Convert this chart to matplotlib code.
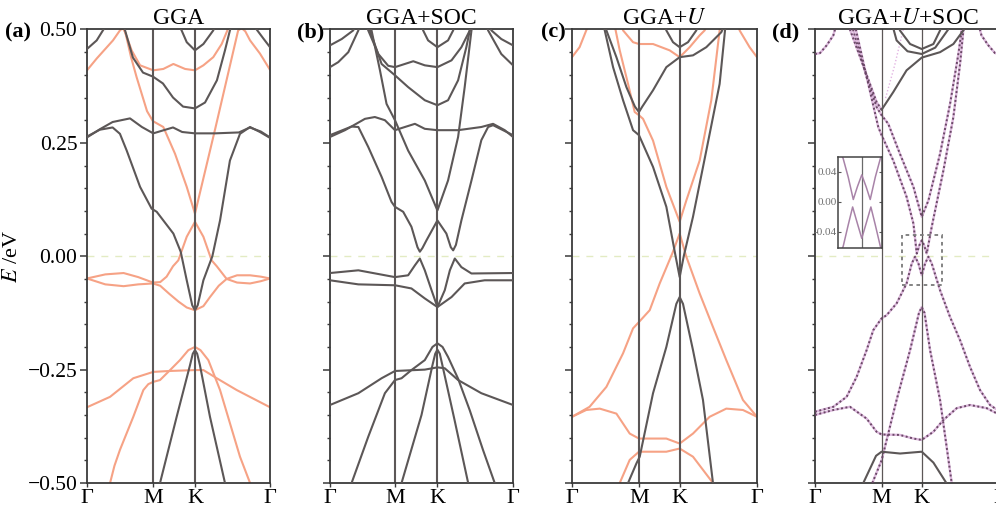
import matplotlib

matplotlib.use("Agg")
import matplotlib.pyplot as plt
from matplotlib.ticker import FixedLocator, FuncFormatter, NullFormatter
from matplotlib.patches import Rectangle

plt.rcParams["font.family"] = ["Liberation Serif", "DejaVu Serif"]
plt.rcParams["mathtext.fontset"] = "stix"

DARK = "#5c5757"
SALMON = "#f6a285"
DOT_BASE = "#dcb8dc"
DOT_FG = "#6a4866"
FERMI = "#e3ebc3"
SPINE = "#3a3a3a"

TITLES = ["GGA", "GGA+SOC", "GGA+$U$", "GGA+$U$+SOC"]
TAGS = ["(a)", "(b)", "(c)", "(d)"]
KPATH_LABELS = ["Γ", "M", "K", "Γ"]
KPATH_POS = [
    [0, 0.362, 0.59, 1],
    [0, 0.355, 0.587, 1],
    [0, 0.362, 0.582, 1],
    [0, 0.36, 0.577, 1],
]
E_MAJOR = [-0.5, -0.25, 0.0, 0.25, 0.5]
E_MINOR = [-0.45, -0.4, -0.35, -0.3, -0.2, -0.15, -0.1, -0.05,
           0.05, 0.1, 0.15, 0.2, 0.3, 0.35, 0.4, 0.45]

# ---- (a) GGA ----
GGA_DARK = [
    [(0, 0.457), (0.053, 0.476), (0.09, 0.5), (0.1, 0.51)],
    [(0.91, 0.51), (0.927, 0.5), (0.964, 0.48), (1.0, 0.461)],
    [(0.2, 0.51), (0.208, 0.498), (0.251, 0.438), (0.306, 0.405), (0.361, 0.396),
     (0.415, 0.381), (0.47, 0.35), (0.525, 0.33), (0.59, 0.326), (0.645, 0.339),
     (0.71, 0.388), (0.754, 0.454), (0.781, 0.498), (0.79, 0.51)],
    [(0.5, 0.51), (0.517, 0.498), (0.545, 0.472), (0.59, 0.454), (0.636, 0.468),
     (0.69, 0.498), (0.7, 0.51)],
    [(0, 0.262), (0.07, 0.28), (0.14, 0.296), (0.235, 0.304), (0.3, 0.285),
     (0.362, 0.271), (0.42, 0.278), (0.47, 0.284), (0.52, 0.274), (0.59, 0.271),
     (0.7, 0.271), (0.83, 0.273), (0.89, 0.284), (0.95, 0.275), (1.0, 0.262)],
    [(0, 0.264), (0.07, 0.279), (0.14, 0.284), (0.18, 0.27), (0.217, 0.233),
     (0.29, 0.153), (0.353, 0.105), (0.381, 0.098), (0.472, 0.05), (0.512, 0.01),
     (0.545, -0.053), (0.575, -0.108), (0.59, -0.119), (0.605, -0.108),
     (0.636, -0.053), (0.685, 0.0), (0.727, 0.079), (0.781, 0.211), (0.836, 0.27),
     (0.891, 0.285), (0.945, 0.274), (1.0, 0.261)],
    [(0.399, -0.5), (0.49, -0.354), (0.563, -0.24), (0.578, -0.215), (0.59, -0.207),
     (0.602, -0.215), (0.617, -0.24), (0.672, -0.354), (0.754, -0.5)],
]
GGA_SALMON = [
    [(0, 0.41), (0.053, 0.436), (0.142, 0.476), (0.18, 0.498), (0.195, 0.503),
     (0.21, 0.493), (0.24, 0.44), (0.271, 0.395), (0.328, 0.32), (0.36, 0.298),
     (0.417, 0.285), (0.481, 0.226), (0.545, 0.153), (0.59, 0.094), (0.7, 0.28),
     (0.826, 0.498), (0.845, 0.503), (0.865, 0.496), (0.891, 0.476),
     (0.945, 0.447), (1.0, 0.411)],
    [(0.2, 0.51), (0.208, 0.494), (0.244, 0.454), (0.29, 0.421), (0.362, 0.41),
     (0.417, 0.413), (0.472, 0.424), (0.536, 0.413), (0.59, 0.41), (0.636, 0.421),
     (0.69, 0.439), (0.736, 0.468), (0.767, 0.498), (0.775, 0.51)],
    [(0, -0.049), (0.1, -0.04), (0.2, -0.037), (0.28, -0.046), (0.36, -0.058),
     (0.4, -0.057), (0.435, -0.045), (0.47, -0.022), (0.499, -0.009), (0.545, 0.043),
     (0.59, 0.076), (0.636, 0.043), (0.681, -0.009), (0.709, -0.022), (0.763, -0.05),
     (0.82, -0.058), (0.891, -0.06), (0.95, -0.055), (1.0, -0.049)],
    [(0, -0.049), (0.1, -0.062), (0.2, -0.066), (0.28, -0.062), (0.36, -0.06),
     (0.4, -0.065), (0.45, -0.083), (0.5, -0.1), (0.545, -0.113), (0.59, -0.119),
     (0.636, -0.11), (0.672, -0.09), (0.72, -0.065), (0.763, -0.05), (0.82, -0.042),
     (0.891, -0.042), (0.95, -0.045), (1.0, -0.049)],
    [(0.126, -0.5), (0.15, -0.462), (0.18, -0.427), (0.253, -0.354), (0.308, -0.295),
     (0.335, -0.282), (0.362, -0.277), (0.399, -0.273), (0.454, -0.251),
     (0.508, -0.229), (0.554, -0.207), (0.59, -0.2), (0.62, -0.207), (0.663, -0.229),
     (0.727, -0.295), (0.781, -0.368), (0.836, -0.442), (0.891, -0.5)],
    [(0, -0.333), (0.126, -0.31), (0.253, -0.269), (0.362, -0.255), (0.45, -0.253),
     (0.59, -0.251), (0.636, -0.251), (0.709, -0.269), (0.818, -0.295), (1.0, -0.333)],
]

# ---- (b) GGA+SOC ----
SOC_DARK = [
    [(0, 0.465), (0.064, 0.479), (0.127, 0.498), (0.14, 0.51)],
    [(0, 0.417), (0.045, 0.428), (0.1, 0.45), (0.155, 0.498), (0.16, 0.51)],
    [(0.87, 0.51), (0.882, 0.498), (0.936, 0.479), (1.0, 0.465)],
    [(0.855, 0.51), (0.864, 0.498), (0.936, 0.446), (1.0, 0.421)],
    [(0.2, 0.51), (0.209, 0.498), (0.264, 0.446), (0.318, 0.42), (0.355, 0.417),
     (0.455, 0.43), (0.518, 0.421), (0.587, 0.417), (0.664, 0.432), (0.718, 0.461),
     (0.764, 0.498), (0.77, 0.51)],
    [(0.21, 0.51), (0.218, 0.498), (0.282, 0.424), (0.355, 0.399), (0.427, 0.373),
     (0.518, 0.344), (0.587, 0.333), (0.645, 0.344), (0.7, 0.388), (0.745, 0.461),
     (0.764, 0.498), (0.77, 0.51)],
    [(0.22, 0.51), (0.227, 0.498), (0.273, 0.41), (0.309, 0.336), (0.355, 0.3),
     (0.427, 0.233), (0.518, 0.167), (0.587, 0.101), (0.645, 0.167), (0.7, 0.263),
     (0.736, 0.373), (0.773, 0.498), (0.78, 0.51)],
    [(0.5, 0.51), (0.509, 0.498), (0.536, 0.476), (0.587, 0.461), (0.645, 0.476),
     (0.673, 0.498), (0.68, 0.51)],
    [(0, 0.267), (0.118, 0.286), (0.155, 0.285), (0.209, 0.241), (0.282, 0.175),
     (0.336, 0.12), (0.355, 0.109), (0.4, 0.098), (0.445, 0.065), (0.478, 0.02),
     (0.491, 0.01), (0.505, 0.018), (0.527, 0.035), (0.587, 0.079), (0.636, 0.05),
     (0.66, 0.02), (0.673, 0.013), (0.688, 0.025), (0.718, 0.079), (0.773, 0.167),
     (0.827, 0.256), (0.864, 0.285), (0.891, 0.289), (1.0, 0.267)],
    [(0, 0.263), (0.082, 0.278), (0.191, 0.303), (0.245, 0.307), (0.3, 0.3),
     (0.355, 0.278), (0.409, 0.285), (0.464, 0.292), (0.518, 0.281), (0.587, 0.278),
     (0.7, 0.278), (0.827, 0.285), (0.891, 0.292), (0.955, 0.278), (1.0, 0.263)],
    [(0, -0.037), (0.155, -0.031), (0.355, -0.046), (0.427, -0.042), (0.464, -0.02),
     (0.491, -0.005), (0.518, -0.031), (0.555, -0.075), (0.587, -0.112),
     (0.627, -0.075), (0.655, -0.031), (0.682, -0.005), (0.718, -0.024),
     (0.773, -0.038), (1.0, -0.037)],
    [(0, -0.053), (0.155, -0.062), (0.355, -0.064), (0.445, -0.071), (0.518, -0.093),
     (0.587, -0.112), (0.664, -0.09), (0.736, -0.06), (0.845, -0.053), (1.0, -0.053)],
    [(0.118, -0.5), (0.209, -0.398), (0.3, -0.302), (0.355, -0.273), (0.391, -0.269),
     (0.445, -0.251), (0.518, -0.229), (0.56, -0.2), (0.587, -0.192), (0.615, -0.2),
     (0.645, -0.222), (0.7, -0.27), (0.764, -0.34), (0.836, -0.427), (0.9, -0.5)],
    [(0.391, -0.5), (0.5, -0.35), (0.56, -0.24), (0.575, -0.215), (0.587, -0.206),
     (0.6, -0.215), (0.614, -0.24), (0.68, -0.36), (0.755, -0.5)],
    [(0, -0.328), (0.155, -0.302), (0.282, -0.269), (0.355, -0.253), (0.518, -0.25),
     (0.587, -0.245), (0.627, -0.247), (0.7, -0.273), (0.827, -0.302), (1.0, -0.328)],
]

# ---- (c) GGA+U ----
U_DARK = [
    [(0.5, 0.51), (0.51, 0.498), (0.546, 0.472), (0.582, 0.461), (0.627, 0.472),
     (0.672, 0.498), (0.68, 0.51)],
    [(0.18, 0.51), (0.186, 0.498), (0.24, 0.439), (0.294, 0.373), (0.34, 0.33),
     (0.362, 0.318), (0.38, 0.33), (0.438, 0.366), (0.51, 0.417), (0.582, 0.439),
     (0.654, 0.443), (0.726, 0.461), (0.807, 0.494), (0.825, 0.51)],
    [(0.17, 0.51), (0.177, 0.498), (0.222, 0.417), (0.276, 0.344), (0.33, 0.278),
     (0.362, 0.267), (0.438, 0.197), (0.51, 0.109), (0.56, 0.0), (0.582, -0.046),
     (0.604, 0.0), (0.654, 0.087), (0.726, 0.233), (0.798, 0.38), (0.83, 0.51)],
    [(0.303, -0.5), (0.348, -0.457), (0.366, -0.442), (0.438, -0.302), (0.51, -0.2),
     (0.564, -0.105), (0.582, -0.09), (0.6, -0.105), (0.654, -0.207),
     (0.708, -0.317), (0.762, -0.5)],
]
U_SALMON = [
    [(0, 0.439), (0.041, 0.461), (0.077, 0.498), (0.09, 0.51)],
    [(0.9, 0.51), (0.906, 0.498), (0.96, 0.461), (1.0, 0.439)],
    [(0.27, 0.51), (0.276, 0.498), (0.33, 0.472), (0.362, 0.468), (0.438, 0.468),
     (0.528, 0.454), (0.582, 0.439), (0.636, 0.461), (0.69, 0.487), (0.717, 0.498),
     (0.73, 0.51)],
    [(0.23, 0.51), (0.236, 0.498), (0.258, 0.454), (0.303, 0.38), (0.339, 0.318),
     (0.362, 0.311), (0.384, 0.303), (0.438, 0.255), (0.51, 0.153), (0.582, 0.076),
     (0.618, 0.123), (0.69, 0.211), (0.753, 0.344), (0.798, 0.498), (0.8, 0.51)],
    [(0, -0.354), (0.095, -0.332), (0.186, -0.288), (0.276, -0.214), (0.33, -0.159),
     (0.362, -0.145), (0.42, -0.119), (0.474, -0.06), (0.542, 0.006), (0.582, 0.05),
     (0.618, -0.001), (0.69, -0.082), (0.762, -0.156), (0.834, -0.229),
     (0.924, -0.317), (1.0, -0.354)],
    [(0, -0.354), (0.077, -0.339), (0.15, -0.336), (0.24, -0.347), (0.312, -0.391),
     (0.362, -0.402), (0.51, -0.402), (0.582, -0.413), (0.654, -0.391),
     (0.744, -0.354), (0.834, -0.336), (0.924, -0.339), (1.0, -0.354)],
    [(0.258, -0.5), (0.312, -0.449), (0.362, -0.431), (0.51, -0.431), (0.582, -0.424),
     (0.654, -0.442), (0.708, -0.471), (0.762, -0.5)],
]

# ---- (d) GGA+U+SOC ----
USOC_SOLID = [
    [(0.36, 0.323), (0.423, 0.362), (0.495, 0.41), (0.577, 0.438), (0.676, 0.45),
     (0.748, 0.468), (0.802, 0.498), (0.81, 0.51)],
    [(0.45, 0.51), (0.459, 0.498), (0.514, 0.468), (0.577, 0.457), (0.64, 0.468),
     (0.676, 0.498), (0.685, 0.51)],
    [(0.425, 0.5), (0.441, 0.476), (0.5, 0.452), (0.577, 0.446), (0.65, 0.46),
     (0.72, 0.5)],
    [(0.261, -0.5), (0.33, -0.44), (0.36, -0.431), (0.46, -0.435), (0.577, -0.431),
     (0.64, -0.455), (0.71, -0.5)],
]
USOC_DOTTED = [
    [(0, 0.446), (0.027, 0.448), (0.063, 0.465), (0.099, 0.487), (0.115, 0.51)],
    [(0.885, 0.51), (0.9, 0.487), (0.937, 0.465), (0.973, 0.448), (1.0, 0.446)],
    [(0.18, 0.51), (0.189, 0.5), (0.27, 0.41), (0.333, 0.34), (0.36, 0.323)],
    [(0.2, 0.51), (0.207, 0.498), (0.279, 0.395), (0.333, 0.329), (0.36, 0.311),
     (0.396, 0.292), (0.459, 0.226), (0.532, 0.153), (0.577, 0.087), (0.613, 0.123),
     (0.676, 0.226), (0.73, 0.336), (0.775, 0.446), (0.793, 0.498), (0.8, 0.51)],
    [(0.215, 0.51), (0.222, 0.498), (0.288, 0.38), (0.342, 0.285), (0.36, 0.267),
     (0.423, 0.211), (0.495, 0.131), (0.532, 0.072), (0.55, 0.006), (0.565, 0.025),
     (0.577, 0.035), (0.589, 0.025), (0.604, 0.006), (0.631, 0.065), (0.694, 0.189),
     (0.748, 0.307), (0.784, 0.424), (0.802, 0.498), (0.81, 0.51)],
    [(0, -0.343), (0.099, -0.332), (0.171, -0.31), (0.225, -0.266), (0.279, -0.207),
     (0.315, -0.163), (0.36, -0.137), (0.387, -0.13), (0.441, -0.104),
     (0.495, -0.06), (0.523, -0.016), (0.541, -0.001), (0.559, -0.016),
     (0.577, -0.042), (0.595, -0.016), (0.613, -0.001), (0.631, -0.016),
     (0.676, -0.075), (0.73, -0.134), (0.784, -0.185), (0.838, -0.244),
     (0.892, -0.295), (0.946, -0.328), (1.0, -0.343)],
    [(0, -0.35), (0.099, -0.339), (0.189, -0.332), (0.279, -0.358), (0.333, -0.387),
     (0.36, -0.393), (0.459, -0.394), (0.532, -0.402), (0.577, -0.405),
     (0.64, -0.387), (0.694, -0.361), (0.766, -0.335), (0.838, -0.328),
     (0.928, -0.335), (1.0, -0.35)],
    [(0.31, -0.5), (0.345, -0.465), (0.36, -0.45), (0.441, -0.317), (0.514, -0.207),
     (0.562, -0.125), (0.577, -0.112), (0.592, -0.125), (0.622, -0.207),
     (0.676, -0.317), (0.739, -0.5)],
]
USOC_PINK = [
    [(0.477, 0.5), (0.43, 0.42), (0.378, 0.344)],
]
ZOOM_BOX = (0.469, -0.064, 0.216, 0.11)  # k0, E0, dk, dE

INSET_UPPER = [(-1.1, 0.075), (-0.846, 0.058), (-0.615, 0.033), (-0.385, 0.003),
               (-0.2, 0.02), (0, 0.036), (0.2, 0.02), (0.385, 0.003),
               (0.615, 0.033), (0.846, 0.058), (1.0, 0.07)]
INSET_LOWER = [(-1.1, -0.075), (-0.846, -0.06), (-0.615, -0.031), (-0.415, -0.007),
               (-0.2, -0.029), (0, -0.049), (0.2, -0.029), (0.415, -0.007),
               (0.615, -0.031), (0.846, -0.06), (1.0, -0.07)]
INSET_TICKS = [0.04, 0.0, -0.04]
INSET_TICKLABELS = ["0.04", "0.00", "-0.04"]

PANEL_BANDS = [
    [(GGA_DARK, "solid_dark"), (GGA_SALMON, "salmon")],
    [(SOC_DARK, "solid_dark")],
    [(U_SALMON, "salmon"), (U_DARK, "solid_dark")],
    [(USOC_PINK, "pink"), (USOC_DOTTED, "dotted"), (USOC_SOLID, "solid_dark")],
]

W, H = 996, 515
PANEL_LEFT = [87, 330, 572, 815]
PANEL_WIDTH = [183, 183, 185, 185]
TAG_X = [5, 297, 541, 772]
TOP, BOTTOM = 29.5, 483


def draw(ax, bands, style):
    for band in bands:
        ks = [p[0] for p in band]
        es = [p[1] for p in band]
        if style == "solid_dark":
            ax.plot(ks, es, color=DARK, lw=1.5, solid_capstyle="round", zorder=3)
        elif style == "salmon":
            ax.plot(ks, es, color=SALMON, lw=1.5, solid_capstyle="round", zorder=2)
        elif style == "dotted":
            ax.plot(ks, es, color=DOT_BASE, lw=1.7, zorder=2)
            ax.plot(ks, es, color=DOT_FG, lw=1.4, ls=(0, (1, 1.3)), zorder=3)
        elif style == "pink":
            ax.plot(ks, es, color="#e2b4e2", lw=1.0, ls=(0, (1, 1.5)), zorder=1)


def energy_label(v, pos):
    return f"{v:.2f}".replace("-", "−")


fig = plt.figure(figsize=(W / 100, H / 100), dpi=100)

for i in range(4):
    ax = fig.add_axes([PANEL_LEFT[i] / W, 1 - BOTTOM / H,
                       PANEL_WIDTH[i] / W, (BOTTOM - TOP) / H])
    ax.set_xlim(0, 1)
    ax.set_ylim(-0.5, 0.5)
    vlw = 0.9 if i == 3 else 1.5
    for kx in KPATH_POS[i][1:3]:
        ax.axvline(kx, color=DARK, lw=vlw, zorder=2.5)
    ax.axhline(0, color=FERMI, lw=1.0, ls=(0, (5, 5)), zorder=1)
    for bands, style in PANEL_BANDS[i]:
        draw(ax, bands, style)

    ax.yaxis.set_major_locator(FixedLocator(E_MAJOR))
    ax.yaxis.set_minor_locator(FixedLocator(E_MINOR))
    ax.xaxis.set_major_locator(FixedLocator(KPATH_POS[i]))
    ax.set_xticklabels(KPATH_LABELS, fontsize=16)
    ax.tick_params(axis="y", which="major", direction="out", length=5, width=1.1,
                   color=SPINE, labelsize=15.5, pad=2)
    ax.tick_params(axis="y", which="minor", direction="out", length=2.5, width=1.0,
                   color=SPINE)
    ax.tick_params(axis="x", direction="out", length=3, width=1.0, color=SPINE,
                   pad=1)
    if i == 0:
        ax.yaxis.set_major_formatter(FuncFormatter(energy_label))
        ax.set_ylabel("$E$ /eV", fontsize=16, labelpad=4)
    else:
        ax.yaxis.set_major_formatter(NullFormatter())
    for s in ax.spines.values():
        s.set_color(SPINE)
        s.set_linewidth(1.3)
    ax.set_title(TITLES[i], fontsize=17, pad=4)
    fig.text(TAG_X[i] / W, 1 - 32 / H, TAGS[i], fontsize=16, fontweight="bold",
             ha="left", va="center")

    if i == 3:
        k0, e0, dk, de = ZOOM_BOX
        ax.add_patch(Rectangle((k0, e0), dk, de, fill=False, ec="#7a7a7a", lw=1.3,
                               ls=(0, (2, 2)), zorder=4))

# inset of panel (d)
ins = fig.add_axes([838 / W, 1 - 248 / H, 44 / W, 91 / H])
ins.set_xlim(-1.08, 0.92)
ins.set_ylim(-0.062, 0.06)
ins.axvline(0, color="#6a6a6a", lw=0.9)
for band in (INSET_UPPER, INSET_LOWER):
    ins.plot([p[0] for p in band], [p[1] for p in band], color="#a883a8", lw=1.1)
ins.set_xticks([])
ins.set_yticks(INSET_TICKS)
ins.set_yticklabels(INSET_TICKLABELS, fontsize=8, color="#707070")
ins.tick_params(axis="y", direction="in", length=2.5, width=0.8, pad=1,
                right=True, color="#555555")
for s in ins.spines.values():
    s.set_color("#444444")
    s.set_linewidth(1.1)

fig.savefig("out.png", dpi=100)
